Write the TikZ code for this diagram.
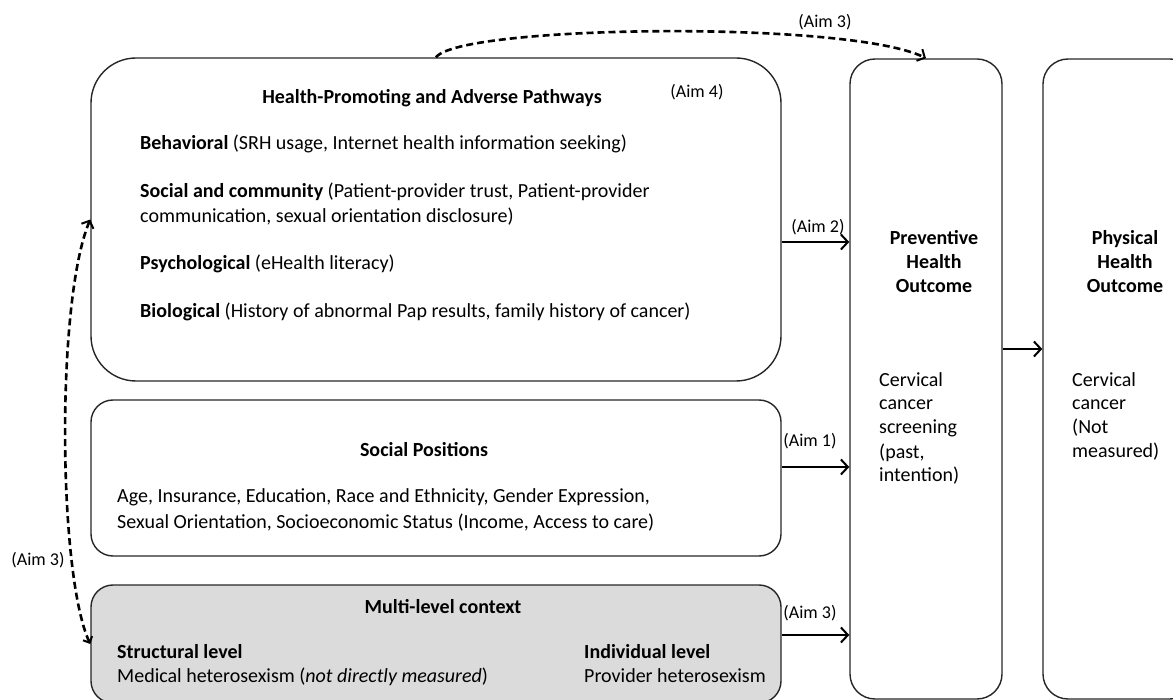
\documentclass[tikz,border=0pt]{standalone}
\usepackage{fontspec}
\setmainfont{Carlito}
\usetikzlibrary{arrows.meta}

\tikzset{
  box/.style={draw=black!85, line width=1.4pt, rounded corners=22pt, inner sep=0pt},
  head/.style={font=\fontsize{20}{24}\selectfont\bfseries, inner sep=0pt, align=center},
  body/.style={font=\fontsize{20}{24}\selectfont, anchor=west, inner sep=0pt,
    text height=14pt, text depth=4pt},
  aim/.style={font=\fontsize{18}{20}\selectfont, inner sep=0pt},
  link/.style={line width=2pt, -{Straight Barb[length=7pt,width=15pt,line width=2pt]}},
  aimlink/.style={line width=2.6pt, dash pattern=on 7pt off 4pt,
    -{Straight Barb[length=6pt,width=13pt,line width=2pt]}}
}

\begin{document}
\begin{tikzpicture}[x=1pt,y=-1pt]
  \useasboundingbox (0,0) rectangle (1173,700);

  % boxes
  \node[box, rounded corners=45pt, minimum width=690pt, minimum height=323pt] (path) at (436,219.5) {};
  \node[box, minimum width=690pt, minimum height=156pt] (social) at (436,478) {};
  \node[box, fill=black!14, minimum width=690pt, minimum height=118pt] (multi) at (436,644) {};
  \node[box, rounded corners=25pt, minimum width=152pt, minimum height=640pt] (prev) at (926,379) {};
  \node[box, rounded corners=25pt, minimum width=152pt, minimum height=640pt] (phys) at (1119,379) {};

  % pathways
  \node[head] (pathtitle) at (432,98) {Health-Promoting and Adverse Pathways};
  \node[aim] (aimfour) at (697,92) {(Aim 4)};
  \node[body] (beh) at (140,145) {\textbf{Behavioral} (SRH usage, Internet health information seeking)};
  \node[body] (socone) at (140,193) {\textbf{Social and community} (Patient-provider trust, Patient-provider};
  \node[body] (soctwo) at (140,218) {communication, sexual orientation disclosure)};
  \node[body] (psy) at (140,265) {\textbf{Psychological} (eHealth literacy)};
  \node[body] (bio) at (140,313) {\textbf{Biological} (History of abnormal Pap results, family history of cancer)};

  % social positions
  \node[head] (socialtitle) at (424,450) {Social Positions};
  \node[body] (posone) at (117,497) {Age, Insurance, Education, Race and Ethnicity, Gender Expression,};
  \node[body] (postwo) at (117,523) {Sexual Orientation, Socioeconomic Status (Income, Access to care)};

  % multi-level context
  \node[head] (multititle) at (443,607) {Multi-level context};
  \node[body] (struct) at (117,653) {\textbf{Structural level}};
  \node[body] (medical) at (117,677) {Medical heterosexism (\textit{not directly measured})};
  \node[body] (indiv) at (584,653) {\textbf{Individual level}};
  \node[body] (provider) at (584,677) {Provider heterosexism};

  % outcomes
  \node[head] (prevtitle) at (934,262) {Preventive\\Health\\Outcome};
  \node[head] (physitle) at (1125,262) {Physical\\Health\\Outcome};
  \node[body] (cerv) at (879,382) {Cervical};
  \node[body] (canc) at (879,405) {cancer};
  \node[body] (scre) at (879,429) {screening};
  \node[body] (past) at (879,453) {(past,};
  \node[body] (inte) at (879,477) {intention)};
  \node[body] (pcerv) at (1072,382) {Cervical};
  \node[body] (pcanc) at (1072,405) {cancer};
  \node[body] (pnot) at (1072,429) {(Not};
  \node[body] (pmeas) at (1072,452) {measured)};

  % aims
  \coordinate (ytwo) at (0,242);
  \coordinate (yone) at (0,467);
  \coordinate (ythree) at (0,635);
  \coordinate (yphys) at (0,349);
  \draw[link] (path.east |- ytwo) -- (prev.west |- ytwo);
  \draw[link] (social.east |- yone) -- (prev.west |- yone);
  \draw[link] (multi.east |- ythree) -- (prev.west |- ythree);
  \draw[link] (prev.east |- yphys) -- (phys.west |- yphys);
  \node[aim] (aimtwo) at (818,227) {(Aim 2)};
  \node[aim] (aimone) at (810,441) {(Aim 1)};
  \node[aim] (aimthree) at (810,613) {(Aim 3)};

  \draw[aimlink] (path.north) .. controls (460,25) and (850,20) .. (prev.north);
  \node[aim] (aimtop) at (825,22) {(Aim 3)};
  \draw[aimlink, {Straight Barb[length=5pt,width=10pt,line width=2pt]}-{Straight Barb[length=6pt,width=13pt,line width=2pt]}]
    (multi.west) .. controls (58,575) and (56,300) .. (path.west);
  \node[aim] (aimleft) at (38,560) {(Aim 3)};
\end{tikzpicture}
\end{document}
